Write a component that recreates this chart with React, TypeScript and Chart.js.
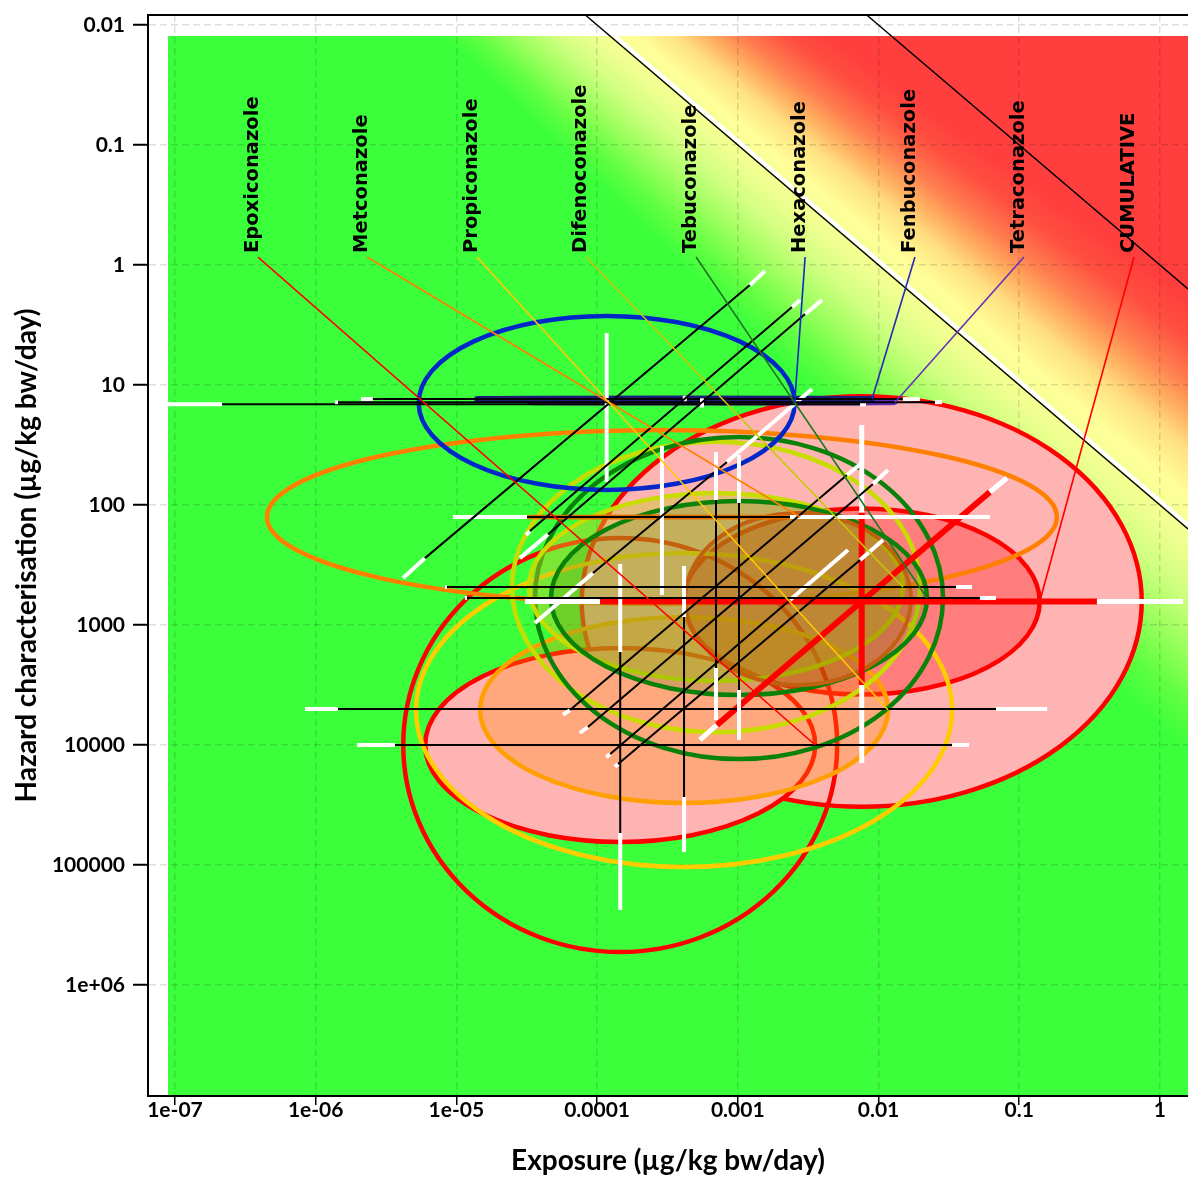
import React, { useEffect, useRef } from 'react';
import { Chart, registerables } from 'chart.js';

Chart.register(...registerables);

// ---------- axes ----------
const X_MIN = 6.43e-8;
const X_MAX = 1.584;
const Y_MIN = 0.008254;
const Y_MAX = 8.41e6;
const X_TICKS = [1e-7, 1e-6, 1e-5, 1e-4, 1e-3, 1e-2, 1e-1, 1];
const X_TICK_LABELS = ['1e-07', '1e-06', '1e-05', '0.0001', '0.001', '0.01', '0.1', '1'];
const Y_TICKS = [0.01, 0.1, 1, 10, 100, 1000, 1e4, 1e5, 1e6];
const Y_TICK_LABELS = ['0.01', '0.1', '1', '10', '100', '1000', '10000', '100000', '1e+06'];

// ---------- background (colour by log10 margin of exposure, band widening along the lines) ----------
const BG_START = [8.9e-8, 0.0124];
const BG_MOE_CENTRE = 2.05;
const BG_REF_P = -5.68;
const BG_SPREAD = 0.0518;
const BG_U_STOPS = [-1.5, -1.22, -0.93, -0.72, -0.51, -0.22, 0.06, 0.35, 0.63, 0.95, 1.2];
const BG_U_COLORS = [
  [255, 62, 62], [255, 80, 64], [255, 128, 80], [255, 176, 96], [255, 224, 128], [255, 255, 153],
  [240, 255, 144], [208, 255, 128], [160, 255, 96], [96, 255, 64], [60, 255, 60],
];
const MOE_LINES = [100, 1];

// ---------- substances ----------
const SUBSTANCES = ['Epoxiconazole', 'Metconazole', 'Propiconazole', 'Difenoconazole', 'Tebuconazole', 'Hexaconazole', 'Fenbuconazole', 'Tetraconazole', 'CUMULATIVE'];
const SUBSTANCE_COLORS = ['#ff0000', '#ff8000', '#ffc800', '#c8c800', '#1e781e', '#1428c8', '#2828b4', '#6432b4', '#ff0000'];
const LABEL_X = [3.89e-7, 2.32e-6, 1.40e-5, 8.34e-5, 5.05e-4, 3.01e-3, 0.01816, 0.1081, 0.655];
const LABEL_Y = 0.794;
const LEADER_Y = 0.858;
const LEADER_ELLIPSE = [1, 15, 5, 9, 10, 12, 14, 13, 2];

// ---------- ellipses (centre exposure, centre hazard, half-width & half-height in decades) ----------
const ELL_CX = [7.6e-3, 1.46e-4, 7.6e-3, 1.46e-4, 4.15e-4, 4.15e-4, 2.89e-4, 7.0e-4, 1.02e-3, 7.0e-4, 1.02e-3, 2.68e-3, 1.17e-4, 6.6e-4, 3.55e-4, 2.9e-4];
const ELL_CY = [637, 1.0e4, 637, 1.0e4, 5110, 5110, 126, 482, 596, 482, 596, 607, 14.1, 14.0, 13.1, 126];
const ELL_RX = [1.99, 1.386, 1.265, 1.542, 1.905, 1.45, 2.807, 1.45, 1.45, 1.329, 1.336, 0.803, 1.336, 1.297, 1.404, 0.98];
const ELL_RY = [1.71, 0.808, 0.775, 1.725, 1.308, 0.775, 0.725, 1.21, 1.342, 0.783, 0.808, 0.717, 0.725, 0, 0, 0];
const ELL_STROKE = ['#ff0000', '#ff0000', '#ff0000', '#ff0000', '#ffcc00', '#ffa000', '#ff8000', '#c8dc00', '#0a820a', '#c8dc00', '#0a820a', '#c06010', '#0028c8', '#5a2db4', '#1c1c78', '#e07000'];
const ELL_FILL = ['#ffb4b4', '#ffb4b4', 'rgba(255,0,0,0.3)', '', '', 'rgba(255,140,0,0.3)', '', '', '', 'rgba(200,200,40,0.45)', 'rgba(60,120,0,0.2)', 'rgba(170,90,0,0.25)', '', '', '', ''];
const ELL_WIDTH = [4.5, 4.5, 4.5, 4.5, 4.5, 4.5, 4.5, 4.5, 4.5, 4.5, 4.5, 4, 4.5, 5, 6, 4];

// ---------- horizontal bars (hazard; exposure: outer-low, core-low, core-high, outer-high) ----------
const H_Y = [1.0e4, 126, 5012, 482, 596, 14.5, 13.1, 13.9, 637];
const H_X0 = [1.97e-6, 9.46e-6, 8.4e-7, 8.3e-6, 1.15e-5, 8.9e-8, 2.1e-6, 1.37e-6, 3.08e-5];
const H_X1 = [3.66e-6, 3.18e-5, 1.44e-6, 8.57e-6, 1.19e-5, 2.16e-7, 2.55e-6, 1.44e-6, 1.05e-4];
const H_X2 = [0.0333, 2.35e-3, 0.0684, 0.0356, 0.0526, 7.4e-3, 0.0149, 0.0252, 0.357];
const H_X3 = [0.044, 0.0619, 0.158, 0.0462, 0.0684, 8.15e-3, 0.0197, 0.0283, 1.46];

// ---------- vertical bars (exposure; hazard: outer-low, core-low, core-high, outer-high) ----------
const V_X = [1.46e-4, 2.89e-4, 4.15e-4, 7.0e-4, 1.02e-3, 1.17e-4, 4.2e-4, 5.57e-4, 7.6e-3];
const V_Y0 = [310, 32.2, 322, 36.2, 38.3, 3.69, 12.3, 12.9, 21.5];
const V_Y1 = [1680, 126, 858, 90.9, 96.2, 14.1, 13.1, 14.0, 116];
const V_Y2 = [54100, 126, 27100, 2282, 3480, 14.1, 13.1, 14.0, 3160];
const V_Y3 = [237000, 562, 78000, 6190, 9080, 64.3, 13.9, 15.4, 14130];

// ---------- diagonal bars (constant exposure x hazard) ----------
const D_X = [
  [1.16e-4, 1.24e-4, 2.35e-3, 6.07e-3],
  [3.62e-5, 9.35e-5, 8.38e-4, 3.37e-3],
  [1.34e-4, 1.41e-4, 7.4e-3, 0.01077],
  [5.73e-5, 6.42e-5, 5.97e-3, 7.76e-3],
  [7.55e-5, 8.61e-5, 9.14e-3, 0.01167],
  [4.17e-6, 5.98e-6, 1.22e-3, 1.56e-3],
  [3.13e-5, 3.33e-5, 2.43e-3, 2.77e-3],
  [2.83e-5, 4.48e-5, 3.01e-3, 3.97e-3],
  [5.38e-4, 7.11e-4, 0.0619, 0.0818],
];
const D_Y = [
  [12600, 11900, 619, 237],
  [962, 369, 43.8, 10.8],
  [15200, 14400, 287, 196],
  [5620, 5110, 56.2, 43.8],
  [7940, 7080, 66.8, 51.1],
  [406, 277, 1.47, 1.12],
  [178, 165, 2.24, 1.96],
  [277, 175, 2.56, 1.96],
  [9080, 6810, 77.9, 59.6],
];
const BAR_CORE_COLOR = ['#000', '#000', '#000', '#000', '#000', '#000', '#000', '#000', '#ff0000'];
const BAR_CORE_WIDTH = [2, 2, 2, 2, 2, 2, 2, 2, 6];
const BAR_END_WIDTH = [4, 4, 4, 4, 4, 4, 4, 4, 5];
const DRAW_ORDER = [8, 0, 1, 2, 3, 4, 5, 6, 7];

const TICK_FONT = { family: 'Lato, "DejaVu Sans", sans-serif', size: 21, weight: 'bold' as const };
const TITLE_FONT = { family: 'Lato, "DejaVu Sans", sans-serif', size: 28, weight: 'bold' as const };

function bgColour(u: number): number[] {
  const s = BG_U_STOPS;
  const c = BG_U_COLORS;
  if (u <= s[0]) return c[0];
  if (u >= s[s.length - 1]) return c[c.length - 1];
  for (let i = 0; i < s.length - 1; i++) {
    if (u <= s[i + 1]) {
      const t = (u - s[i]) / (s[i + 1] - s[i]);
      return [0, 1, 2].map((k) => c[i][k] + (c[i + 1][k] - c[i][k]) * t);
    }
  }
  return c[c.length - 1];
}

const riskPlugin = {
  id: 'riskPlot',
  beforeDraw(chart: any) {
    const { ctx, chartArea: ca } = chart;
    const xs = chart.scales.x;
    const ys = chart.scales.y;
    ctx.save();
    ctx.fillStyle = '#ffffff';
    ctx.fillRect(0, 0, chart.width, chart.height);
    ctx.restore();
    const x0 = Math.round(xs.getPixelForValue(BG_START[0]));
    const y0 = Math.round(ys.getPixelForValue(BG_START[1]));
    const x1 = Math.round(ca.right);
    const y1 = Math.round(ca.bottom);
    const w = x1 - x0;
    const h = y1 - y0;
    if (w <= 0 || h <= 0) return;
    const lxA = Math.log10(xs.getValueForPixel(x0 + 0.5));
    const lxB = Math.log10(xs.getValueForPixel(x1 + 0.5));
    const lyA = Math.log10(ys.getValueForPixel(y0 + 0.5));
    const lyB = Math.log10(ys.getValueForPixel(y1 + 0.5));
    const img = ctx.createImageData(w, h);
    const d = img.data;
    for (let j = 0; j < h; j++) {
      const ly = lyA + (lyB - lyA) * (j / h);
      for (let i = 0; i < w; i++) {
        const lx = lxA + (lxB - lxA) * (i / w);
        const moe = ly - lx;
        const p = ly + lx;
        const spread = 1 + BG_SPREAD * (p - BG_REF_P);
        const col = bgColour((moe - BG_MOE_CENTRE) / spread);
        const k = (j * w + i) * 4;
        d[k] = col[0];
        d[k + 1] = col[1];
        d[k + 2] = col[2];
        d[k + 3] = 255;
      }
    }
    ctx.putImageData(img, x0, y0);
  },
  afterDatasetsDraw(chart: any) {
    const { ctx, chartArea: ca } = chart;
    const xs = chart.scales.x;
    const ys = chart.scales.y;
    const X = (v: number) => xs.getPixelForValue(v);
    const Y = (v: number) => ys.getPixelForValue(v);
    const seg = (x1: number, y1: number, x2: number, y2: number, color: string, w: number) => {
      ctx.beginPath();
      ctx.moveTo(X(x1), Y(y1));
      ctx.lineTo(X(x2), Y(y2));
      ctx.strokeStyle = color;
      ctx.lineWidth = w;
      ctx.stroke();
    };
    ctx.save();
    ctx.beginPath();
    ctx.rect(ca.left, ca.top, ca.right - ca.left, ca.bottom - ca.top);
    ctx.clip();
    ctx.lineCap = 'butt';

    // MOE lines
    MOE_LINES.forEach((m, i) => {
      const x1 = X(X_MIN), y1 = Y(X_MIN * m), x2 = X(X_MAX), y2 = Y(X_MAX * m);
      if (i === 0) {
        ctx.beginPath();
        ctx.moveTo(x1 + 2.5, y1 - 2);
        ctx.lineTo(x2 + 2.5, y2 - 2);
        ctx.strokeStyle = '#ffffff';
        ctx.lineWidth = 4;
        ctx.stroke();
      }
      ctx.beginPath();
      ctx.moveTo(x1, y1);
      ctx.lineTo(x2, y2);
      ctx.strokeStyle = '#000000';
      ctx.lineWidth = 1.4;
      ctx.stroke();
    });

    // ellipses
    for (let i = 0; i < ELL_CX.length; i++) {
      const cx = X(ELL_CX[i]);
      const cy = Y(ELL_CY[i]);
      const rx = X(ELL_CX[i] * Math.pow(10, ELL_RX[i])) - cx;
      const ry = Math.abs(Y(ELL_CY[i] * Math.pow(10, ELL_RY[i])) - cy);
      ctx.beginPath();
      ctx.ellipse(cx, cy, rx, Math.max(ry, 0.5), 0, 0, Math.PI * 2);
      if (ELL_FILL[i]) {
        ctx.fillStyle = ELL_FILL[i];
        ctx.fill();
      }
      ctx.strokeStyle = ELL_STROKE[i];
      ctx.lineWidth = ELL_WIDTH[i];
      ctx.stroke();
    }

    // bars
    DRAW_ORDER.forEach((i) => {
      const cc = BAR_CORE_COLOR[i], cw = BAR_CORE_WIDTH[i], ew = BAR_END_WIDTH[i];
      seg(H_X0[i], H_Y[i], H_X1[i], H_Y[i], '#ffffff', ew);
      seg(H_X1[i], H_Y[i], H_X2[i], H_Y[i], cc, cw);
      seg(H_X2[i], H_Y[i], H_X3[i], H_Y[i], '#ffffff', ew);
      seg(V_X[i], V_Y0[i], V_X[i], V_Y1[i], '#ffffff', ew);
      if (V_Y2[i] !== V_Y1[i]) seg(V_X[i], V_Y1[i], V_X[i], V_Y2[i], cc, cw);
      seg(V_X[i], V_Y2[i], V_X[i], V_Y3[i], '#ffffff', ew);
      const dx = D_X[i], dy = D_Y[i];
      seg(dx[0], dy[0], dx[1], dy[1], '#ffffff', ew);
      seg(dx[1], dy[1], dx[2], dy[2], cc, cw);
      seg(dx[2], dy[2], dx[3], dy[3], '#ffffff', ew);
    });

    // leader lines
    SUBSTANCES.forEach((_, i) => {
      const e = LEADER_ELLIPSE[i];
      const tx = ELL_CX[e] * Math.pow(10, ELL_RX[e]);
      const ty = ELL_CY[e];
      seg(LABEL_X[i], LEADER_Y, tx, ty, SUBSTANCE_COLORS[i], 1.6);
    });

    // labels
    ctx.fillStyle = '#000000';
    ctx.font = 'bold 19.5px "DejaVu Sans", sans-serif';
    ctx.textAlign = 'left';
    ctx.textBaseline = 'alphabetic';
    SUBSTANCES.forEach((name, i) => {
      ctx.save();
      ctx.translate(X(LABEL_X[i]), Y(LABEL_Y));
      ctx.rotate(-Math.PI / 2);
      ctx.fillText(name, 0, 0);
      ctx.restore();
    });
    ctx.restore();
  },
  afterDraw(chart: any) {
    const { ctx, chartArea: ca } = chart;
    ctx.save();
    ctx.strokeStyle = '#000';
    ctx.lineWidth = 2;
    ctx.beginPath();
    ctx.moveTo(ca.left - 1, ca.top);
    ctx.lineTo(ca.right, ca.top);
    ctx.stroke();
    ctx.restore();
  },
};

export default function App() {
  const ref = useRef<HTMLCanvasElement>(null);
  useEffect(() => {
    if (!ref.current) return;
    const chart = new Chart(ref.current, {
      type: 'scatter',
      data: { datasets: [{ data: [] }] },
      plugins: [riskPlugin],
      options: {
        animation: false,
        responsive: false,
        devicePixelRatio: 1,
        events: [],
        layout: { padding: { top: 15, right: 0, bottom: 0, left: 0 } },
        plugins: { legend: { display: false }, tooltip: { enabled: false } },
        scales: {
          x: {
            type: 'logarithmic',
            min: X_MIN,
            max: X_MAX,
            bounds: 'data',
            afterFit: (s: any) => { s.height = 86; s.paddingLeft = 0; s.paddingRight = 0; },
            afterBuildTicks: (s: any) => { s.ticks = X_TICKS.map((v) => ({ value: v })); },
            ticks: {
              autoSkip: false,
              maxRotation: 0,
              padding: -7,
              color: '#000',
              font: TICK_FONT,
              callback: (_v: any, i: number) => X_TICK_LABELS[i],
            },
            grid: { color: 'rgba(0,0,0,0.13)', lineWidth: 1.5, tickLength: 9, tickColor: '#000', tickWidth: 1.5 },
            border: { display: true, color: '#000', width: 2, dash: [7, 4] },
            title: { display: true, text: 'Exposure (µg/kg bw/day)', color: '#000', font: TITLE_FONT, padding: { top: 0, bottom: 4 } },
          },
          y: {
            type: 'logarithmic',
            reverse: true,
            min: Y_MIN,
            max: Y_MAX,
            bounds: 'data',
            afterFit: (s: any) => { s.width = 148; s.paddingTop = 0; s.paddingBottom = 0; },
            afterBuildTicks: (s: any) => { s.ticks = Y_TICKS.map((v) => ({ value: v })); },
            ticks: {
              autoSkip: false,
              padding: 8,
              color: '#000',
              font: TICK_FONT,
              callback: (_v: any, i: number) => Y_TICK_LABELS[i],
            },
            grid: { color: 'rgba(0,0,0,0.13)', lineWidth: 1.5, tickLength: 15, tickColor: '#000', tickWidth: 2 },
            border: { display: true, color: '#000', width: 2, dash: [7, 4] },
            title: { display: true, text: 'Hazard characterisation (µg/kg bw/day)', color: '#000', font: TITLE_FONT, padding: { top: 10, bottom: 0 } },
          },
        },
      } as any,
    });
    return () => chart.destroy();
  }, []);
  return (
    <div style={{ position: 'fixed', left: 0, top: 0, width: 1188, height: 1182, background: '#fff', overflow: 'hidden' }}>
      <canvas ref={ref} width={1188} height={1182} style={{ display: 'block' }} />
    </div>
  );
}
